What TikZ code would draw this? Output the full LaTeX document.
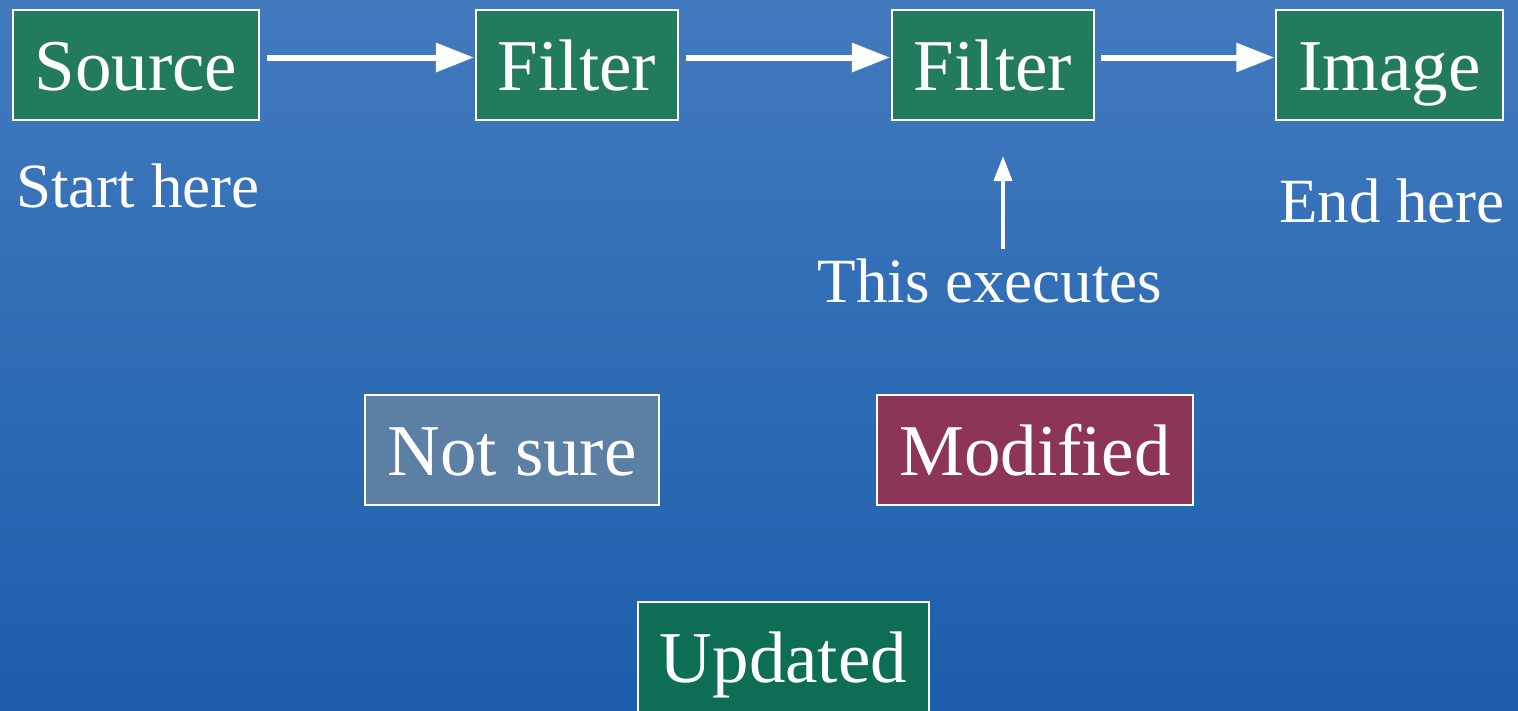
\documentclass[tikz,border=0pt]{standalone}
\usepackage{fontspec}
\setmainfont{Liberation Serif}
\usetikzlibrary{arrows.meta}

\definecolor{bgtop}{RGB}{66,122,190}
\definecolor{bgbot}{RGB}{28,94,172}
\definecolor{boxgreen}{RGB}{35,123,94}
\definecolor{boxdkgreen}{RGB}{14,110,85}
\definecolor{boxgrey}{RGB}{92,128,164}
\definecolor{boxred}{RGB}{141,52,89}

\tikzset{
  stagebox/.style={draw=white, line width=2pt, text=white, minimum height=110pt,
    inner xsep=22pt, inner ysep=0pt, text height=50pt, text depth=0pt,
    font=\fontsize{73}{80}\selectfont},
  note/.style={text=white, inner sep=0pt, anchor=base, font=\fontsize{63}{70}\selectfont},
  arr/.style={white, line width=6pt, -{Triangle[length=38pt,width=28pt]}},
  smallarr/.style={white, line width=4pt, -{Triangle[length=25pt,width=18pt]}}
}

\begin{document}
\begin{tikzpicture}[x=1pt,y=-1pt]

\useasboundingbox (0,0) rectangle (1518,710);
\shade[top color=bgtop, bottom color=bgbot] (0,0) rectangle (1518,710);

\node[stagebox, fill=boxgreen] (src) at (136,65) {Source};
\node[stagebox, fill=boxgreen] (flt1) at (577,65) {Filter};
\node[stagebox, fill=boxgreen] (flt2) at (993,65) {Filter};
\node[stagebox, fill=boxgreen] (img) at (1389.5,65) {Image};

\node[note] (start) at (138,207) {Start here};
\node[note] (end) at (1392,222) {End here};
\node[note] (exec) at (990,302) {This executes};

\node[stagebox, fill=boxgrey] (unsure) at (512,450) {Not sure};
\node[stagebox, fill=boxred] (mod) at (1035,450) {Modified};
\node[stagebox, fill=boxdkgreen] (upd) at (783.5,657) {Updated};

\draw[arr] ([xshift=7pt,yshift=7.5pt]src.east) -- ([xshift=-1pt,yshift=7.5pt]flt1.west);
\draw[arr] ([xshift=7pt,yshift=7.5pt]flt1.east) -- ([xshift=-1pt,yshift=7.5pt]flt2.west);
\draw[arr] ([xshift=6pt,yshift=7.5pt]flt2.east) -- ([xshift=-1pt,yshift=7.5pt]img.west);
\draw[smallarr] ([xshift=13pt,yshift=9pt]exec.north) -- ([xshift=10pt,yshift=-35pt]flt2.south);

\end{tikzpicture}
\end{document}
